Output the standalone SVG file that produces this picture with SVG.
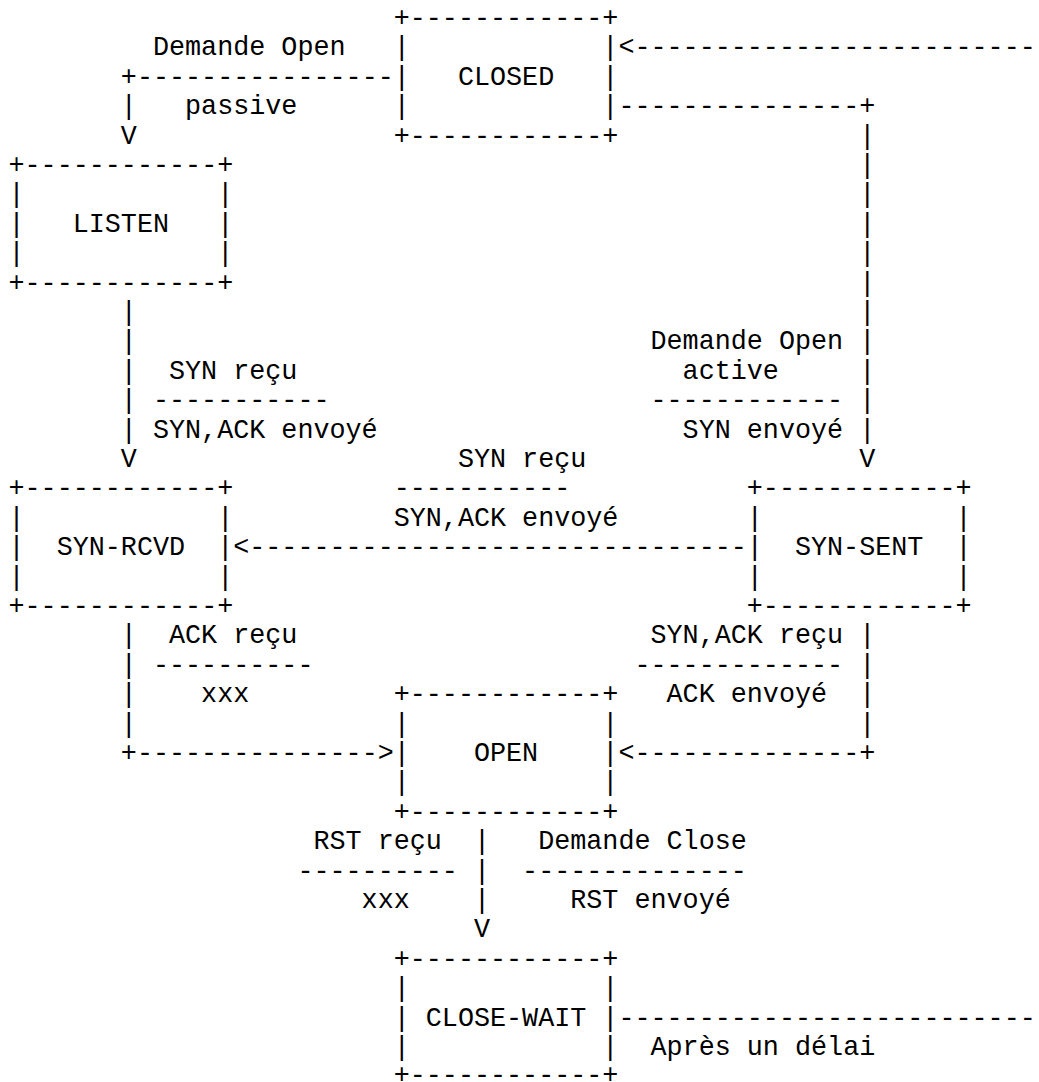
<svg xmlns="http://www.w3.org/2000/svg" width="1039" height="1082" viewBox="0 0 1039 1082" xml:space="preserve">
<style>
text{font-family:"Liberation Mono","Courier New",monospace;font-size:26.75px;fill:#000;white-space:pre}
</style>
<rect width="1039" height="1082" fill="#fff"/>
<g id="node-closed">
<text><tspan x="393.7" y="26">+------------+</tspan><tspan x="393.7" y="55.4">|            |</tspan><tspan x="393.7" y="84.8">|   CLOSED   |</tspan><tspan x="393.7" y="114.2">|            |</tspan><tspan x="393.7" y="143.6">+------------+</tspan></text>
</g>
<g id="node-listen">
<text><tspan x="8.5" y="173">+------------+</tspan><tspan x="8.5" y="202.4">|            |</tspan><tspan x="8.5" y="231.8">|   LISTEN   |</tspan><tspan x="8.5" y="261.2">|            |</tspan><tspan x="8.5" y="290.6">+------------+</tspan></text>
</g>
<g id="node-syn-rcvd">
<text><tspan x="8.5" y="496.4">+------------+</tspan><tspan x="8.5" y="525.8">|            |</tspan><tspan x="8.5" y="555.2">|  SYN-RCVD  |</tspan><tspan x="8.5" y="584.6">|            |</tspan><tspan x="8.5" y="614">+------------+</tspan></text>
</g>
<g id="node-syn-sent">
<text><tspan x="746.8" y="496.4">+------------+</tspan><tspan x="746.8" y="525.8">|            |</tspan><tspan x="746.8" y="555.2">|  SYN-SENT  |</tspan><tspan x="746.8" y="584.6">|            |</tspan><tspan x="746.8" y="614">+------------+</tspan></text>
</g>
<g id="node-open">
<text><tspan x="393.7" y="702.2">+------------+</tspan><tspan x="393.7" y="731.6">|            |</tspan><tspan x="393.7" y="761">|    OPEN    |</tspan><tspan x="393.7" y="790.4">|            |</tspan><tspan x="393.7" y="819.8">+------------+</tspan></text>
</g>
<g id="node-close-wait">
<text><tspan x="393.7" y="966.8">+------------+</tspan><tspan x="393.7" y="996.2">|            |</tspan><tspan x="393.7" y="1025.6">| CLOSE-WAIT |</tspan><tspan x="393.7" y="1055">|            |</tspan><tspan x="393.7" y="1083">+------------+</tspan></text>
</g>
<g id="connectors">
<text x="152.95" y="55.4">Demande Open</text>
<text x="618.4" y="55.4">&lt;-------------------------</text>
<text x="120.85" y="84.8">+----------------</text>
<text x="120.85" y="114.2">|</text>
<text x="185.05" y="114.2">passive</text>
<text x="618.4" y="114.2">---------------+</text>
<text x="120.85" y="143.6">V</text>
<text x="859.15" y="143.6">|</text>
<text x="859.15" y="173">|</text>
<text x="859.15" y="202.4">|</text>
<text x="859.15" y="231.8">|</text>
<text x="859.15" y="261.2">|</text>
<text x="859.15" y="290.6">|</text>
<text x="120.85" y="320">|</text>
<text x="859.15" y="320">|</text>
<text x="120.85" y="349.4">|</text>
<text x="650.5" y="349.4">Demande Open</text>
<text x="859.15" y="349.4">|</text>
<text x="120.85" y="378.8">|</text>
<text x="169" y="378.8">SYN reçu</text>
<text x="682.6" y="378.8">active</text>
<text x="859.15" y="378.8">|</text>
<text x="120.85" y="408.2">|</text>
<text x="152.95" y="408.2">-----------</text>
<text x="650.5" y="408.2">------------</text>
<text x="859.15" y="408.2">|</text>
<text x="120.85" y="437.6">|</text>
<text x="152.95" y="437.6">SYN,ACK envoyé</text>
<text x="682.6" y="437.6">SYN envoyé</text>
<text x="859.15" y="437.6">|</text>
<text x="120.85" y="467">V</text>
<text x="457.9" y="467">SYN reçu</text>
<text x="859.15" y="467">V</text>
<text x="393.7" y="496.4">-----------</text>
<text x="393.7" y="525.8">SYN,ACK envoyé</text>
<text x="233.2" y="555.2">&lt;-------------------------------</text>
<text x="120.85" y="643.4">|</text>
<text x="169" y="643.4">ACK reçu</text>
<text x="650.5" y="643.4">SYN,ACK reçu</text>
<text x="859.15" y="643.4">|</text>
<text x="120.85" y="672.8">|</text>
<text x="152.95" y="672.8">----------</text>
<text x="634.45" y="672.8">-------------</text>
<text x="859.15" y="672.8">|</text>
<text x="120.85" y="702.2">|</text>
<text x="201.1" y="702.2">xxx</text>
<text x="666.55" y="702.2">ACK envoyé</text>
<text x="859.15" y="702.2">|</text>
<text x="120.85" y="731.6">|</text>
<text x="859.15" y="731.6">|</text>
<text x="120.85" y="761">+---------------&gt;</text>
<text x="618.4" y="761">&lt;--------------+</text>
<text x="313.45" y="849.2">RST reçu</text>
<text x="473.95" y="849.2">|</text>
<text x="538.15" y="849.2">Demande Close</text>
<text x="297.4" y="878.6">----------</text>
<text x="473.95" y="878.6">|</text>
<text x="522.1" y="878.6">--------------</text>
<text x="361.6" y="908">xxx</text>
<text x="473.95" y="908">|</text>
<text x="570.25" y="908">RST envoyé</text>
<text x="473.95" y="937.4">V</text>
<text x="618.4" y="1025.6">--------------------------</text>
<text x="650.5" y="1055">Après un délai</text>
</g>
</svg>
